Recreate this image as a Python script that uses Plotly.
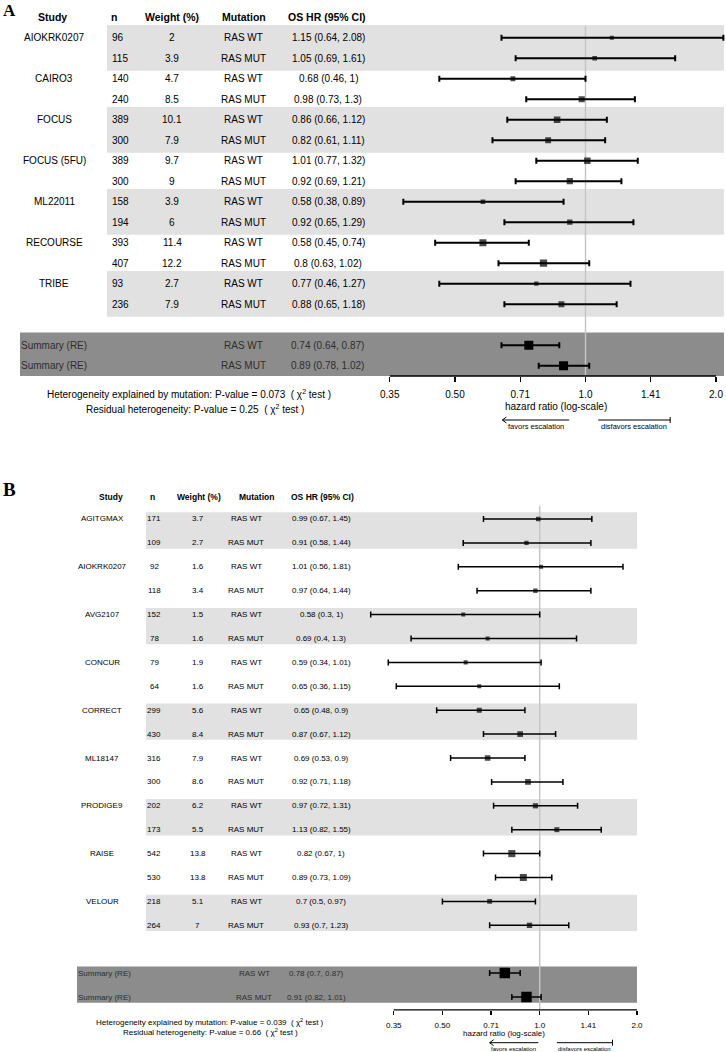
import numpy as np
import plotly.graph_objects as go

W, H = 726, 1052
FONT = "Liberation Sans, Arial, sans-serif"
SERIF = "Liberation Serif, Times New Roman, serif"

# ---------------- Panel A data ----------------
studies_A = ["AIOKRK0207", "CAIRO3", "FOCUS", "FOCUS (5FU)", "ML22011", "RECOURSE", "TRIBE"]
n_A = [96, 115, 140, 240, 389, 300, 389, 300, 158, 194, 393, 407, 93, 236]
weight_A = [2, 3.9, 4.7, 8.5, 10.1, 7.9, 9.7, 9, 3.9, 6, 11.4, 12.2, 2.7, 7.9]
mut_A = ["RAS WT", "RAS MUT"] * 7
hr_A = [1.15, 1.05, 0.68, 0.98, 0.86, 0.82, 1.01, 0.92, 0.58, 0.92, 0.58, 0.8, 0.77, 0.88]
lo_A = [0.64, 0.69, 0.46, 0.73, 0.66, 0.61, 0.77, 0.69, 0.38, 0.65, 0.45, 0.63, 0.46, 0.65]
hi_A = [2.08, 1.61, 1, 1.3, 1.12, 1.11, 1.32, 1.21, 0.89, 1.29, 0.74, 1.02, 1.27, 1.18]
sum_mut_A = ["RAS WT", "RAS MUT"]
sum_hr_A = [0.74, 0.89]
sum_lo_A = [0.64, 0.78]
sum_hi_A = [0.87, 1.02]
het_A = ["Heterogeneity explained by mutation: P-value = 0.073  ( χ<sup>2</sup> test )",
         "Residual heterogeneity: P-value = 0.25  ( χ<sup>2</sup> test )"]

# ---------------- Panel B data ----------------
studies_B = ["AGITGMAX", "AIOKRK0207", "AVG2107", "CONCUR", "CORRECT", "ML18147", "PRODIGE9", "RAISE", "VELOUR"]
n_B = [171, 109, 92, 118, 152, 78, 79, 64, 299, 430, 316, 300, 202, 173, 542, 530, 218, 264]
weight_B = [3.7, 2.7, 1.6, 3.4, 1.5, 1.6, 1.9, 1.6, 5.6, 8.4, 7.9, 8.6, 6.2, 5.5, 13.8, 13.8, 5.1, 7]
mut_B = ["RAS WT", "RAS MUT"] * 9
hr_B = [0.99, 0.91, 1.01, 0.97, 0.58, 0.69, 0.59, 0.65, 0.65, 0.87, 0.69, 0.92, 0.97, 1.13, 0.82, 0.89, 0.7, 0.93]
lo_B = [0.67, 0.58, 0.56, 0.64, 0.3, 0.4, 0.34, 0.36, 0.48, 0.67, 0.53, 0.71, 0.72, 0.82, 0.67, 0.73, 0.5, 0.7]
hi_B = [1.45, 1.44, 1.81, 1.44, 1, 1.3, 1.01, 1.15, 0.9, 1.12, 0.9, 1.18, 1.31, 1.55, 1, 1.09, 0.97, 1.23]
sum_mut_B = ["RAS WT", "RAS MUT"]
sum_hr_B = [0.78, 0.91]
sum_lo_B = [0.7, 0.82]
sum_hi_B = [0.87, 1.01]
het_B = ["Heterogeneity explained by mutation: P-value = 0.039  ( χ<sup>2</sup> test )",
         "Residual heterogeneity: P-value = 0.66  ( χ<sup>2</sup> test )"]

# axis ticks
tick_vals = [2 ** -1.5, 2 ** -1, 2 ** -0.5, 1, 2 ** 0.5, 2]
tick_text = ["0.35", "0.50", "0.71", "1.0", "1.41", "2.0"]
headers = ["Study", "n", "Weight (%)", "Mutation", "OS HR (95% CI)"]


def fmt(v):
    return f"{v:g}"


def ci_text(h, l, u):
    return f"{fmt(h)} ({fmt(l)}, {fmt(u)})"


fig = go.Figure()
annotations = []
shapes = []


def txt(xpx, yref, y, text, size, anchor="center", bold=False, color="black", family=FONT):
    annotations.append(dict(
        x=xpx / W, xref="paper", y=y, yref=yref, text=f"<b>{text}</b>" if bold else text,
        showarrow=False, xanchor=anchor, yanchor="middle", borderpad=0,
        font=dict(family=family, size=size, color=color)))


def arrow(xid, tip, tail, ypaper):
    shapes.append(dict(type="line", xref=xid, yref="paper", x0=tail, x1=tip, y0=ypaper, y1=ypaper,
                       line=dict(color="black", width=1)))
    d = 4 if tail > tip else -4
    for dy in (3, -3):
        shapes.append(dict(type="line", xref=xid, yref="paper", xsizemode="pixel", ysizemode="pixel",
                           xanchor=tip, yanchor=ypaper, x0=0, x1=d, y0=0, y1=dy,
                           line=dict(color="black", width=1)))


def panel(cfg):
    xa, ya = cfg["xaxis"], cfg["yaxis"]
    xid = "x" if xa == "xaxis" else "x" + xa[5:]
    yid = "y" if ya == "yaxis" else "y" + ya[5:]
    r0, rh = cfg["row0"], cfg["rowh"]
    ytop, ybot = cfg["ytop"], cfg["ybot"]
    one, sc = cfg["one"], cfg["scale"]
    vmin, vmax = cfg["vmin"], cfg["vmax"]
    x0px = one + np.log2(vmin) * sc
    x1px = one + np.log2(vmax) * sc
    dom_y = [1 - (r0 + ybot * rh) / H, 1 - (r0 + ytop * rh) / H]
    fig.update_layout(**{
        xa: dict(type="log", range=[np.log10(vmin), np.log10(vmax)], domain=[x0px / W, x1px / W],
                 anchor=yid, tickvals=tick_vals, ticktext=tick_text, ticks="outside", automargin=False,
                 ticklen=cfg["ticklen"], tickwidth=1.4, tickcolor="black", showgrid=False,
                 zeroline=False, showline=False, ticklabelstandoff=cfg["standoff"],
                 tickfont=dict(family=FONT, size=cfg["fs"], color="black")),
        ya: dict(range=[ybot, ytop], domain=dom_y, anchor=xid, visible=False, showgrid=False,
                 zeroline=False, automargin=False),
    })
    hr, lo, hi, w = cfg["hr"], cfg["lo"], cfg["hi"], cfg["w"]
    rows = list(range(len(hr)))
    nst = len(cfg["studies"])
    srow = [len(hr) + 1, len(hr) + 2]
    # bands
    for g in range(0, nst, 2):
        shapes.append(dict(type="rect", xref="paper", yref=yid, x0=cfg["band_x0"] / W, x1=cfg["band_x1"] / W,
                           y0=2 * g + cfg["band_pad"][0], y1=2 * g + 1 + cfg["band_pad"][1],
                           fillcolor="#e1e1e1", line=dict(width=0), layer="below"))
    shapes.append(dict(type="rect", xref="paper", yref=yid, x0=cfg["sum_x0"] / W, x1=cfg["band_x1"] / W,
                       y0=srow[0] + cfg["band_pad"][0], y1=srow[1] + cfg["band_pad"][1],
                       fillcolor="#8c8c8c", line=dict(width=0), layer="below"))
    # reference line at HR = 1
    shapes.append(dict(type="line", xref=xid, yref=yid, x0=1, x1=1, y0=cfg["vline_top"], y1=ybot,
                       line=dict(color="#c4c4c4", width=1.4), layer="below"))
    # axis line
    shapes.append(dict(type="line", xref=xid, yref=yid + " domain", x0=tick_vals[0], x1=tick_vals[-1],
                       y0=0, y1=0, line=dict(color="black", width=1.4)))
    # study estimates
    fig.add_trace(go.Scatter(
        x=hr, y=rows, mode="markers", xaxis=xid, yaxis=yid, showlegend=False, hoverinfo="skip",
        marker=dict(symbol="square", color="black", size=[cfg["msize"][0] + cfg["msize"][1] * v for v in w],
                    line=dict(width=0)),
        error_x=dict(type="data", symmetric=False, array=[u - h for u, h in zip(hi, hr)],
                     arrayminus=[h - l for h, l in zip(hr, lo)], color="black",
                     thickness=cfg["lw"], width=cfg["capw"])))
    # summaries
    fig.add_trace(go.Scatter(
        x=cfg["shr"], y=srow, mode="markers", xaxis=xid, yaxis=yid, showlegend=False, hoverinfo="skip",
        marker=dict(symbol="square", color="black", size=cfg["ssize"], line=dict(width=0)),
        error_x=dict(type="data", symmetric=False, array=[u - h for u, h in zip(cfg["shi"], cfg["shr"])],
                     arrayminus=[h - l for h, l in zip(cfg["shr"], cfg["slo"])], color="black",
                     thickness=cfg["lw"], width=cfg["capw"])))
    # table
    fs, cx = cfg["fs"], cfg["cols"]
    hx = cfg["hcols"]
    for i, h in enumerate(headers):
        txt(hx[i], yid, cfg["hrow"], h, cfg["hfs"], bold=True)
    for k, s in enumerate(cfg["studies"]):
        txt(cx[0], yid, 2 * k, s, fs)
    for i in rows:
        txt(cx[1], yid, i, str(cfg["n"][i]), fs, anchor=cfg["n_anchor"])
        txt(cx[2], yid, i, fmt(w[i]), fs)
        txt(cx[3], yid, i, cfg["mut"][i], fs)
        txt(cx[4], yid, i, ci_text(hr[i], lo[i], hi[i]), fs)
    sc_ = cfg["scols"]
    for j in range(2):
        txt(sc_[0], yid, srow[j], "Summary (RE)", fs, anchor="left", color="#2e2e2e")
        txt(sc_[1], yid, srow[j], cfg["smut"][j], fs, color="#2e2e2e")
        txt(sc_[2], yid, srow[j], ci_text(cfg["shr"][j], cfg["slo"][j], cfg["shi"][j]), fs, color="#2e2e2e")
    # heterogeneity
    for j in range(2):
        txt(cfg["het_x"][j], "paper", 1 - cfg["het_y"][j] / H, cfg["het"][j], fs)
    # axis caption and arrows
    txt(cfg["cap"][0], "paper", 1 - cfg["cap"][1] / H, "hazard ratio (log-scale)", fs)
    ay = 1 - cfg["arrow_y"] / H
    for tip, tail, label in [(cfg["arr_l"][0], cfg["arr_l"][1], "favors escalation"),
                             (cfg["arr_r"][1], cfg["arr_r"][0], "disfavors escalation")]:
        arrow(xid, tip, tail, ay)
        mid = np.sqrt(tip * tail)
        annotations.append(dict(x=np.log10(mid), xref=xid, y=1 - cfg["arrow_ty"] / H, yref="paper",
                                text=label, showarrow=False, xanchor="center", yanchor="middle", borderpad=0,
                                font=dict(family=FONT, size=cfg["afs"], color="black")))
    txt(cfg["lab"][0], "paper", 1 - cfg["lab"][1] / H, cfg["label"], cfg["lab"][2], anchor="left",
        bold=True, family=SERIF)


panel(dict(xaxis="xaxis", yaxis="yaxis", label="A", lab=(2, 10, 17),
           row0=37.7, rowh=20.5, ytop=-1.6, ybot=16.5, one=585.5, scale=130.5,
           vmin=2 ** -1.5, vmax=2.1, ticklen=5, standoff=4, fs=10, hfs=10.5,
           studies=studies_A, n=n_A, w=weight_A, mut=mut_A, hr=hr_A, lo=lo_A, hi=hi_A,
           shr=sum_hr_A, slo=sum_lo_A, shi=sum_hi_A, smut=sum_mut_A, het=het_A,
           band_x0=107, band_x1=724, sum_x0=20, band_pad=(-0.62, 0.61), vline_top=-0.55,
           msize=(3.4, 0.32), ssize=9, lw=2, capw=3,
           hrow=-1.0, hcols=[52, 114, 172, 244, 327], cols=[54, 111, 172, 243, 328], n_anchor="left",
           scols=[20, 243, 327], het_x=[189, 195], het_y=[394, 408.5],
           cap=(556, 406), arr_l=(0.643, 0.917), arr_r=(1.07, 1.568), arrow_y=420, arrow_ty=426.5, afs=7.5))

panel(dict(xaxis="xaxis2", yaxis="yaxis2", label="B", lab=(1.5, 489, 19),
           row0=519, rowh=23.9, ytop=-1.5, ybot=20.54, one=539.7, scale=97.3,
           vmin=0.29, vmax=2.0, ticklen=4, standoff=3, fs=8, hfs=8.5,
           studies=studies_B, n=n_B, w=weight_B, mut=mut_B, hr=hr_B, lo=lo_B, hi=hi_B,
           shr=sum_hr_B, slo=sum_lo_B, shi=sum_hi_B, smut=sum_mut_B, het=het_B,
           band_x0=146, band_x1=637, sum_x0=77, band_pad=(-0.28, 0.24), vline_top=-0.55,
           msize=(3.6, 0.25), ssize=10.5, lw=1.5, capw=3,
           hrow=-0.92, hcols=[111, 152, 199, 256, 322], cols=[102, 154, 198, 246, 321], n_anchor="center",
           scols=[77, 254, 316], het_x=[210, 210.5], het_y=[1022, 1032],
           cap=(504, 1033), arr_l=(0.70, 0.99), arr_r=(1.13, 1.68), arrow_y=1042.7, arrow_ty=1049, afs=6))

fig.update_layout(template="none", width=W, height=H, autosize=False,
                  margin=dict(l=0, r=0, t=0, b=0, pad=0, autoexpand=False),
                  paper_bgcolor="white", plot_bgcolor="rgba(0,0,0,0)",
                  annotations=annotations, shapes=shapes, showlegend=False, hovermode=False)

fig.write_html("out.html", config={"displayModeBar": False, "staticPlot": True}, post_script=(
    "document.body.style.margin='0';document.body.style.padding='0';"
    "document.documentElement.style.overflow='hidden';document.body.style.overflow='hidden';"))
